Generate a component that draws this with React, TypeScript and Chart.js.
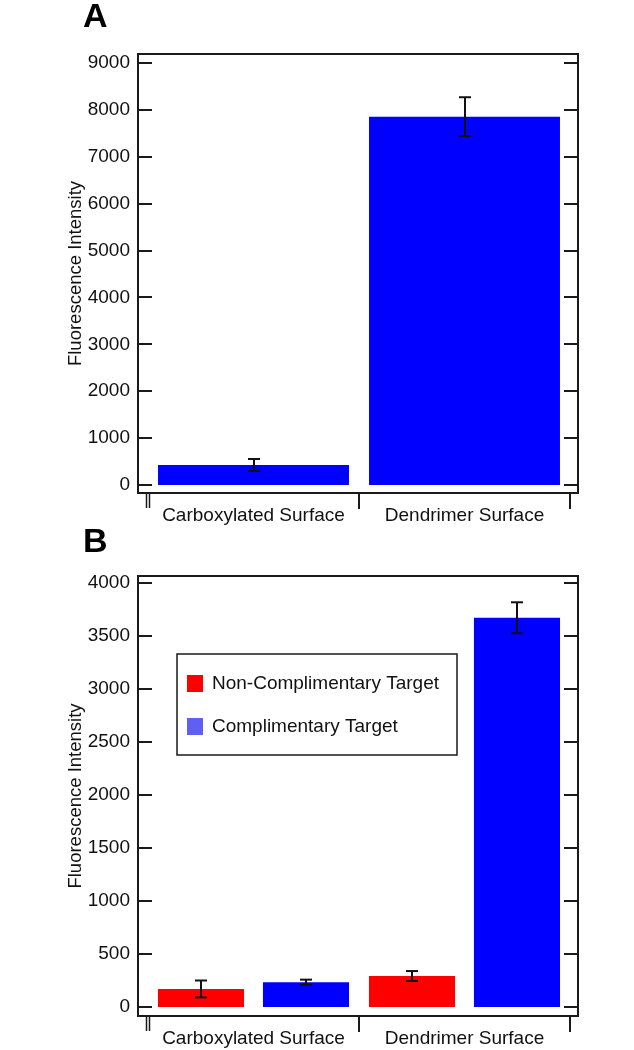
import React, { useEffect, useRef } from 'react';
import { Chart, registerables } from 'chart.js';

Chart.register(...registerables);

const FONT = '"Liberation Sans", Arial, Helvetica, sans-serif';

// ---------- data ----------
const categories = ['Carboxylated Surface', 'Dendrimer Surface'];
const yTitle = 'Fluorescence Intensity';

// Panel A
const yTicksA = [0, 1000, 2000, 3000, 4000, 5000, 6000, 7000, 8000, 9000];
const valuesA = [426, 7855];
const errorsA = [128, 415];

// Panel B
const yTicksB = [0, 500, 1000, 1500, 2000, 2500, 3000, 3500, 4000];
const seriesLabelsB = ['Non-Complimentary Target', 'Complimentary Target'];
const nonCompValues = [170, 292];
const nonCompErrors = [80, 47];
const compValues = [234, 3672];
const compErrors = [24, 146];

const RED = '#ff0000';
const BLUE = '#0000ff';
const LEGEND_BLUE = '#5f5ff5';
const INK = '#1a1a1a';

type PanelCfg = {
  letter: string;
  datasets: { label: string; data: number[]; color: string }[];
  errors: number[][];
  yTicks: number[];
  yMin: number;
  yMax: number;
  padTop: number;
  padBottom: number;
  height: number;
  top: number;
  catPct: number;
  barPct: number;
  legendColors: string[] | null;
};

function makeDecor(cfg: PanelCfg) {
  return {
    id: 'decor',
    afterDatasetsDraw(chart: any) {
      const { ctx, chartArea: ca, scales } = chart;
      const ys = scales.y;
      const xs = scales.x;
      const L = ca.left - 10;
      const R = ca.right + 8;
      const T = ca.top;
      const B = ca.bottom;
      const line = (x1: number, y1: number, x2: number, y2: number) => {
        ctx.beginPath();
        ctx.moveTo(x1, y1);
        ctx.lineTo(x2, y2);
        ctx.stroke();
      };
      ctx.save();
      ctx.strokeStyle = INK;
      ctx.lineWidth = 2;
      ctx.lineCap = 'butt';
      // frame
      ctx.beginPath();
      ctx.moveTo(L, T);
      ctx.lineTo(R, T);
      ctx.lineTo(R, B);
      ctx.lineTo(L, B);
      ctx.closePath();
      ctx.stroke();
      // inward y ticks on both sides
      ys.ticks.forEach((t: any) => {
        const y = Math.round(ys.getPixelForValue(t.value));
        line(L, y, L + 14, y);
        line(R - 14, y, R, y);
      });
      // category boundary ticks
      const n = chart.data.labels.length;
      for (let i = 1; i <= n; i++) {
        const x =
          i < n
            ? Math.round((xs.getPixelForValue(i - 1) + xs.getPixelForValue(i)) / 2)
            : ca.right;
        line(x, B, x, B + 16);
      }
      // axis break mark
      ctx.lineWidth = 1.5;
      line(ca.left - 1.5, B, ca.left - 1.5, B + 15);
      line(ca.left + 1.5, B, ca.left + 1.5, B + 15);
      // error bars
      ctx.lineWidth = 2;
      ctx.strokeStyle = '#111';
      chart.data.datasets.forEach((ds: any, d: number) => {
        const meta = chart.getDatasetMeta(d);
        meta.data.forEach((bar: any, i: number) => {
          const v = ds.data[i];
          const e = cfg.errors[d][i];
          const y1 = ys.getPixelForValue(v + e);
          const y2 = ys.getPixelForValue(v - e);
          const x = Math.round(bar.x);
          line(x, y1, x, y2);
          line(x - 6, y1, x + 6, y1);
          line(x - 6, y2, x + 6, y2);
        });
      });
      // panel letter
      ctx.fillStyle = '#000';
      ctx.font = `bold 34px ${FONT}`;
      ctx.textAlign = 'left';
      ctx.textBaseline = 'alphabetic';
      ctx.fillText(cfg.letter, 83, 27);
      // legend
      if (cfg.legendColors) {
        const bx = ca.left + 29;
        const by = ca.top + 78;
        ctx.fillStyle = '#fff';
        ctx.fillRect(bx, by, 280, 101);
        ctx.strokeStyle = INK;
        ctx.lineWidth = 1.5;
        ctx.strokeRect(bx, by, 280, 101);
        ctx.font = `19px ${FONT}`;
        ctx.textBaseline = 'middle';
        const rows = [21, 64];
        chart.data.datasets.forEach((ds: any, d: number) => {
          const ry = by + rows[d];
          ctx.fillStyle = cfg.legendColors![d];
          ctx.fillRect(bx + 10, ry, 16, 17);
          ctx.fillStyle = '#111';
          ctx.fillText(ds.label, bx + 35, ry + 9);
        });
      }
      ctx.restore();
    },
  };
}

function Panel({ cfg }: { cfg: PanelCfg }) {
  const ref = useRef<HTMLCanvasElement | null>(null);
  useEffect(() => {
    if (!ref.current) return;
    const ticks = cfg.yTicks;
    const chart = new Chart(ref.current, {
      type: 'bar',
      data: {
        labels: categories,
        datasets: cfg.datasets.map((d) => ({
          label: d.label,
          data: d.data,
          backgroundColor: d.color,
          borderWidth: 0,
          categoryPercentage: cfg.catPct,
          barPercentage: cfg.barPct,
        })),
      },
      options: {
        responsive: false,
        animation: false,
        devicePixelRatio: 1,
        layout: {
          padding: { left: 0, top: cfg.padTop, right: 64, bottom: cfg.padBottom },
        },
        plugins: {
          legend: { display: false },
          tooltip: { enabled: false },
        },
        scales: {
          x: {
            type: 'category',
            offset: true,
            grid: { display: false },
            border: { display: false },
            ticks: {
              padding: 3,
              font: { size: 19, family: FONT },
              color: '#111',
              maxRotation: 0,
              autoSkip: false,
            },
            afterFit: (ax: any) => {
              ax.height = 32;
            },
          },
          y: {
            type: 'linear',
            min: cfg.yMin,
            max: cfg.yMax,
            afterBuildTicks: (ax: any) => {
              ax.ticks = ticks.map((v) => ({ value: v }));
            },
            grid: { display: false },
            border: { display: false },
            ticks: {
              padding: 10,
              font: { size: 19, family: FONT },
              color: '#111',
              autoSkip: false,
              callback: (v: any) => String(v),
            },
            title: {
              display: true,
              text: yTitle,
              font: { size: 18.5, family: FONT },
              color: '#111',
              padding: { top: 65, bottom: 0 },
            },
            afterFit: (ax: any) => {
              ax.width = 148;
            },
          },
        },
      },
      plugins: [makeDecor(cfg)],
    } as any);
    return () => chart.destroy();
  }, [cfg]);
  return (
    <canvas
      ref={ref}
      width={634}
      height={cfg.height}
      style={{ display: 'block', position: 'absolute', left: 0, top: cfg.top }}
    />
  );
}

const cfgA: PanelCfg = {
  letter: 'A',
  datasets: [{ label: yTitle, data: valuesA, color: BLUE }],
  errors: [errorsA],
  yTicks: yTicksA,
  yMin: -171,
  yMax: 9192,
  padTop: 54,
  padBottom: 15,
  height: 540,
  top: 0,
  catPct: 0.905,
  barPct: 1,
  legendColors: null,
};

const cfgB: PanelCfg = {
  letter: 'B',
  datasets: [
    { label: seriesLabelsB[0], data: nonCompValues, color: RED },
    { label: seriesLabelsB[1], data: compValues, color: BLUE },
  ],
  errors: [nonCompErrors, compErrors],
  yTicks: yTicksB,
  yMin: -85,
  yMax: 4066,
  padTop: 51,
  padBottom: 2,
  height: 525,
  top: 525,
  catPct: 0.995,
  barPct: 0.82,
  legendColors: [RED, LEGEND_BLUE],
};

export default function App() {
  return (
    <div
      style={{
        position: 'absolute',
        left: 0,
        top: 0,
        width: 634,
        height: 1050,
        background: '#fff',
        overflow: 'hidden',
      }}
    >
      <Panel cfg={cfgA} />
      <Panel cfg={cfgB} />
    </div>
  );
}
